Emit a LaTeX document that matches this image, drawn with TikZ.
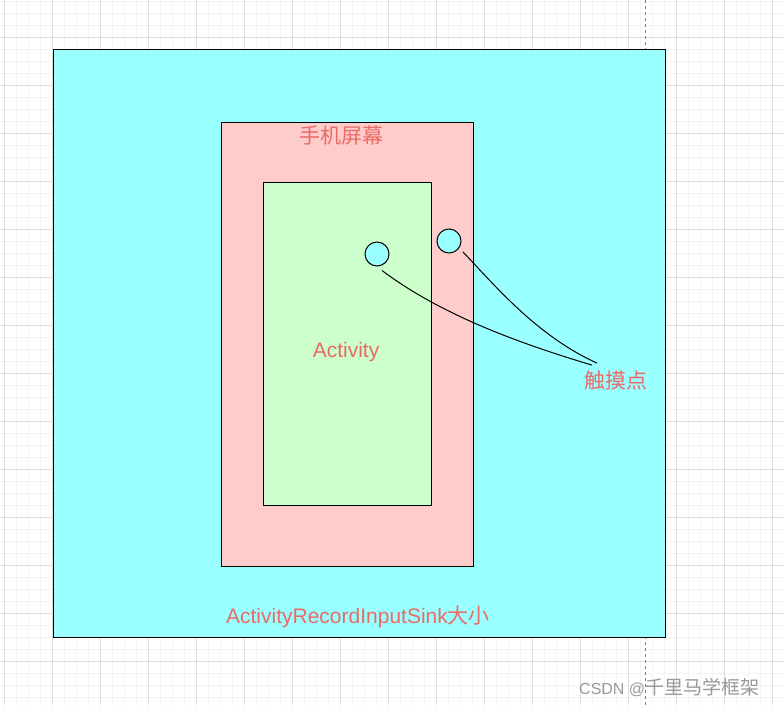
\documentclass[tikz,border=0pt]{standalone}
\usepackage{fontspec}
\setmainfont{Liberation Sans}
\newfontfamily\cjk{Noto Sans CJK SC}
\definecolor{sinkcyan}{HTML}{99FFFF}
\definecolor{screenpink}{HTML}{FFCCCC}
\definecolor{actgreen}{HTML}{CCFFCC}
\definecolor{labelred}{HTML}{EA6B66}
\definecolor{gridmajor}{HTML}{DDDDDD}
\definecolor{gridminor}{HTML}{F3F3F3}
\begin{document}
\begin{tikzpicture}[x=1pt,y=-1pt,
  box/.style={draw=black,line width=1pt},
  dot/.style={draw=black,fill=sinkcyan,circle,inner sep=0pt,minimum size=24pt,line width=1pt},
  lbl/.style={text=labelred,inner sep=0pt,font=\fontsize{21}{25}\selectfont}]
\useasboundingbox (0,0) rectangle (784,705);
\fill[white] (0,0) rectangle (784,705);
% grid
\foreach \x in {4.5,16.5,...,784} {
	\draw[gridminor,line width=0.6pt] (\x,0) -- (\x,705);
}
\foreach \y in {1,13,...,705} {
	\draw[gridminor,line width=0.6pt] (0,\y) -- (784,\y);
}
\foreach \x in {4.5,52.5,...,784} {
	\draw[gridmajor,line width=0.8pt] (\x,0) -- (\x,705);
}
\foreach \y in {37,85,...,705} {
	\draw[gridmajor,line width=0.8pt] (0,\y) -- (784,\y);
}
\draw[gray,dashed,line width=0.6pt] (645.5,0) -- (645.5,705);
% boxes
\draw[box,fill=sinkcyan] (53,49) rectangle (665,637);
\draw[box,fill=screenpink] (221,122) rectangle (473,566);
\draw[box,fill=actgreen] (263,182) rectangle (431,505);
% labels
\node[lbl] (screen) at (341,136) {\cjk 手机屏幕};
\node[lbl] (activity) at (346,352) {Activity};
\node[lbl] (touch) at (616,381) {\cjk 触摸点};
\node[lbl] (sink) at (358,617) {ActivityRecordInputSink{\cjk 大小}};
% touch points
\node[dot] (p1) at (377,254) {};
\node[dot] (p2) at (449,241) {};
\draw[line width=1pt] ([xshift=5pt,yshift=-4pt]p1.south) .. controls (440,314) and (515,342) .. ([xshift=-24pt,yshift=6pt]touch.north);
\draw[line width=1pt] ([xshift=5pt,yshift=-2pt]p2.south east) .. controls (492,282) and (535,335) .. ([xshift=-19pt,yshift=8pt]touch.north);
% watermark
\node[text=gray!80,inner sep=0pt,anchor=west,font=\fontsize{16}{19}\selectfont] (mark) at (579,688) {CSDN @{\cjk\fontsize{19}{22}\selectfont 千里马学框架}};
\end{tikzpicture}
\end{document}
